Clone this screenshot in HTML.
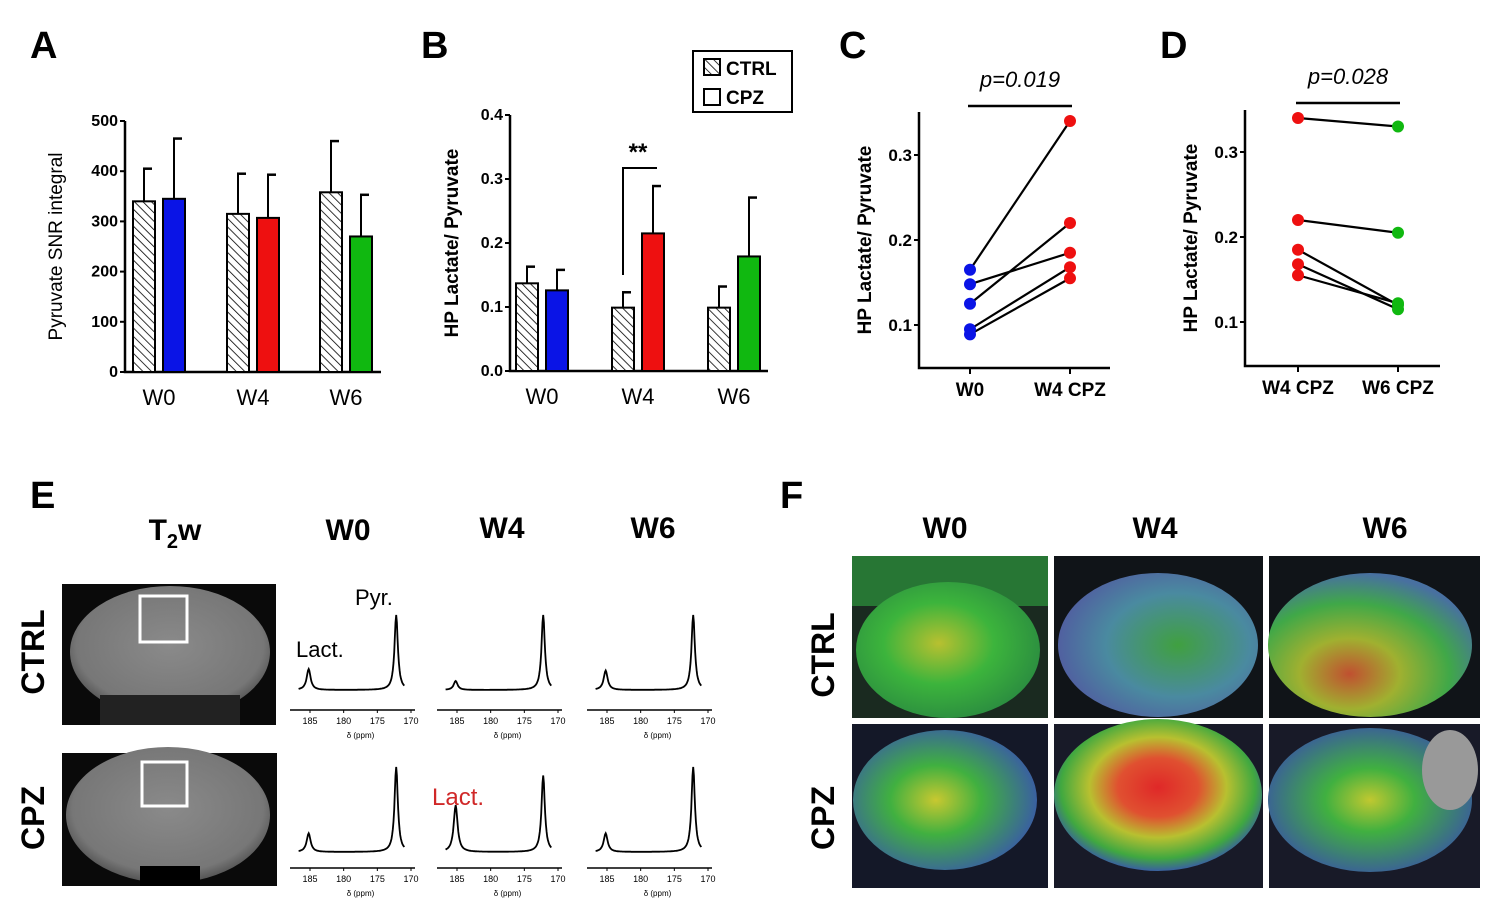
<!DOCTYPE html>
<html><head><meta charset="utf-8"><style>
html,body{margin:0;padding:0;background:#fff;}
svg{display:block;font-family:"Liberation Sans",sans-serif;}
.lbl{font-weight:bold;font-size:38px;font-family:"Liberation Sans Narrow","Liberation Sans",sans-serif;}
.tk{font-weight:bold;font-size:16px;}
.cat{font-size:22px;}
.ax{stroke:#000;stroke-width:2.5;fill:none;}
</style></head><body>
<svg id="fig" width="1488" height="919" viewBox="0 0 1488 919">
<defs>
<pattern id="hatch" patternUnits="userSpaceOnUse" width="6" height="6" patternTransform="rotate(-45)">
<rect width="6" height="6" fill="#fff"/><line x1="0" y1="0" x2="0" y2="6" stroke="#000" stroke-width="1.6"/>
</pattern>
<radialGradient id="gW0c" cx="0.45" cy="0.45" r="0.6"><stop offset="0" stop-color="#b8c030"/><stop offset="0.5" stop-color="#3cb43c"/><stop offset="1" stop-color="#2a8a40"/></radialGradient>
<radialGradient id="gW4c" cx="0.6" cy="0.5" r="0.6"><stop offset="0" stop-color="#40a040"/><stop offset="0.6" stop-color="#4a8aa0"/><stop offset="1" stop-color="#5060a0"/></radialGradient>
<radialGradient id="gW6c" cx="0.4" cy="0.7" r="0.7"><stop offset="0" stop-color="#c05030"/><stop offset="0.35" stop-color="#a0b030"/><stop offset="0.7" stop-color="#40a848"/><stop offset="1" stop-color="#4870a0"/></radialGradient>
<radialGradient id="gW0p" cx="0.45" cy="0.5" r="0.55"><stop offset="0" stop-color="#c8c830"/><stop offset="0.45" stop-color="#40b040"/><stop offset="1" stop-color="#3a60a0"/></radialGradient>
<radialGradient id="gW4p" cx="0.5" cy="0.45" r="0.55"><stop offset="0" stop-color="#e02828"/><stop offset="0.35" stop-color="#e05030"/><stop offset="0.6" stop-color="#b8c030"/><stop offset="0.85" stop-color="#40a840"/><stop offset="1" stop-color="#3a60a0"/></radialGradient>
<radialGradient id="gW6p" cx="0.5" cy="0.5" r="0.55"><stop offset="0" stop-color="#c0c830"/><stop offset="0.4" stop-color="#40b040"/><stop offset="1" stop-color="#3a58a0"/></radialGradient>
<radialGradient id="brainG" cx="0.5" cy="0.45" r="0.55"><stop offset="0" stop-color="#8a8a8a"/><stop offset="0.85" stop-color="#777"/><stop offset="1" stop-color="#555"/></radialGradient>
</defs>

<text class="lbl" x="30" y="58">A</text>
<text class="lbl" x="421" y="58">B</text>
<text class="lbl" x="839" y="58">C</text>
<text class="lbl" x="1160" y="58">D</text>
<text class="lbl" x="30" y="508">E</text>
<text class="lbl" x="780" y="508">F</text>

<g id="panelA"></g>
<g id="panelB"></g>
<g id="panelC"></g>
<g id="panelD"></g>

<g>
<rect x="693" y="51" width="99" height="61" fill="#fff" stroke="#000" stroke-width="2"/>
<rect x="704" y="59" width="16" height="16" fill="url(#hatch)" stroke="#000" stroke-width="2"/>
<text x="726" y="75" font-weight="bold" font-size="19">CTRL</text>
<rect x="704" y="89" width="16" height="16" fill="#fff" stroke="#000" stroke-width="2"/>
<text x="726" y="104" font-weight="bold" font-size="19">CPZ</text>
</g>

<!-- Panel E -->
<g>
<text x="175" y="540" text-anchor="middle" font-weight="bold" font-size="30">T<tspan font-size="20" dy="8">2</tspan><tspan dy="-8">w</tspan></text>
<text x="348" y="540" text-anchor="middle" font-weight="bold" font-size="30">W0</text>
<text x="502" y="538" text-anchor="middle" font-weight="bold" font-size="30">W4</text>
<text x="653" y="538" text-anchor="middle" font-weight="bold" font-size="30">W6</text>
<text transform="translate(44,652) rotate(-90)" text-anchor="middle" font-weight="bold" font-size="32">CTRL</text>
<text transform="translate(44,818) rotate(-90)" text-anchor="middle" font-weight="bold" font-size="32">CPZ</text>
<g>
<rect x="62" y="584" width="214" height="141" fill="#0a0a0a"/>
<ellipse cx="170" cy="652" rx="100" ry="66" fill="url(#brainG)"/>
<rect x="100" y="695" width="140" height="30" fill="#222"/>
<rect x="140" y="596" width="47" height="46" fill="none" stroke="#fff" stroke-width="3"/>
</g>
<g>
<rect x="62" y="753" width="215" height="133" fill="#0a0a0a"/>
<ellipse cx="168" cy="815" rx="102" ry="68" fill="url(#brainG)"/>
<rect x="140" y="866" width="60" height="20" fill="#000"/>
<rect x="142" y="762" width="45" height="44" fill="none" stroke="#fff" stroke-width="3"/>
</g>
<text x="355" y="605" font-size="22">Pyr.</text>
<text x="296" y="657" font-size="22">Lact.</text>
<text x="432" y="805" font-size="24" fill="#d02828">Lact.</text>
<g id="spectra"></g>
</g>

<!-- Panel F -->
<g>
<text x="945" y="538" text-anchor="middle" font-weight="bold" font-size="30">W0</text>
<text x="1155" y="538" text-anchor="middle" font-weight="bold" font-size="30">W4</text>
<text x="1385" y="538" text-anchor="middle" font-weight="bold" font-size="30">W6</text>
<text transform="translate(834,655) rotate(-90)" text-anchor="middle" font-weight="bold" font-size="32">CTRL</text>
<text transform="translate(834,818) rotate(-90)" text-anchor="middle" font-weight="bold" font-size="32">CPZ</text>
<g><rect x="852" y="556" width="196" height="162" fill="#1a2a20"/><rect x="852" y="556" width="196" height="50" fill="#2a8a3a" opacity="0.8"/><ellipse cx="948" cy="650" rx="92" ry="68" fill="url(#gW0c)"/></g>
<g><rect x="1054" y="556" width="209" height="162" fill="#101418"/><ellipse cx="1158" cy="645" rx="100" ry="72" fill="url(#gW4c)"/></g>
<g><rect x="1269" y="556" width="211" height="162" fill="#101418"/><ellipse cx="1370" cy="645" rx="102" ry="72" fill="url(#gW6c)"/></g>
<g><rect x="852" y="724" width="196" height="164" fill="#141828"/><ellipse cx="945" cy="800" rx="92" ry="70" fill="url(#gW0p)"/></g>
<g><rect x="1054" y="724" width="209" height="164" fill="#181a28"/><ellipse cx="1158" cy="795" rx="104" ry="76" fill="url(#gW4p)"/></g>
<g><rect x="1269" y="724" width="211" height="164" fill="#181a28"/><ellipse cx="1370" cy="800" rx="102" ry="72" fill="url(#gW6p)"/><ellipse cx="1450" cy="770" rx="28" ry="40" fill="#999"/></g>
</g>
</svg>
<script>
// ---------- data ----------
var groups = ["W0","W4","W6"];
var snrCtrl = [340, 315, 358];
var snrCtrlErr = [405, 395, 460];
var snrCpz = [345, 307, 270];
var snrCpzErr = [465, 393, 353];
var snrTicks = [0,100,200,300,400,500];
var ratioCtrl = [0.137, 0.099, 0.099];
var ratioCtrlErr = [0.163, 0.123, 0.132];
var ratioCpz = [0.126, 0.215, 0.179];
var ratioCpzErr = [0.158, 0.289, 0.271];
var ratioTicks = ["0.0","0.1","0.2","0.3","0.4"];
var cpzColors = ["#0a14e6","#ee1010","#10b810"];
var cW0 = [0.165, 0.148, 0.125, 0.095, 0.089];
var cW4 = [0.340, 0.185, 0.220, 0.168, 0.155];
var dW4 = [0.340, 0.220, 0.185, 0.168, 0.155];
var dW6 = [0.330, 0.205, 0.120, 0.115, 0.122];
var pairTicks = ["0.1","0.2","0.3"];
var specLact = [[0.28,0.12,0.26],[0.22,0.55,0.22]];
var specPyr = [[1.0,1.0,1.0],[1.0,0.9,1.0]];
var specTicks = [185,180,175,170];

var NS="http://www.w3.org/2000/svg";
function el(parent, tag, attrs, txt){
  var e=document.createElementNS(NS,tag);
  for(var k in attrs) e.setAttribute(k, attrs[k]);
  if(txt!==undefined) e.textContent=txt;
  parent.appendChild(e); return e;
}

function barChart(g, x0, x1, yBase, yTop, vmax, ticks, tickFmt, ctrl, ctrlE, cpz, cpzE, groupX, label, labelX, name){
  function y(v){ return yBase - v/vmax*(yBase-yTop); }
  var a=el(g,'path',{d:'M'+x0+' '+yTop+' V'+yBase+' H'+x1,'class':'ax'});
  
  
  ticks.forEach(function(t){
    var v=parseFloat(t);
    el(g,'line',{x1:x0-5,x2:x0,y1:y(v),y2:y(v),stroke:'#000','stroke-width':2});
    var tx=el(g,'text',{x:x0-7,y:y(v)+5,'text-anchor':'end','class':'tk'},tickFmt(t));
    
    
  });
  var yl=el(g,'text',{transform:'translate('+labelX+','+((yBase+yTop)/2)+') rotate(-90)','text-anchor':'middle','font-size':19,'font-weight':name=='panel-b'?'bold':'normal'},label);
  
  
  var bw=22;
  groups.forEach(function(gn,i){
    var cx=groupX[i];
    var specs=[[ctrl[i],ctrlE[i],cx-bw-4,'url(#hatch)'],[cpz[i],cpzE[i],cx+4,cpzColors[i]]];
    specs.forEach(function(s,j){
      el(g,'line',{x1:s[2]+bw/2,x2:s[2]+bw/2,y1:y(s[0]),y2:y(s[1]),stroke:'#000','stroke-width':2});
      el(g,'line',{x1:s[2]+bw/2-1,x2:s[2]+bw/2+8,y1:y(s[1]),y2:y(s[1]),stroke:'#000','stroke-width':2.5});
      var r=el(g,'rect',{x:s[2],y:y(s[0]),width:bw,height:yBase-y(s[0]),fill:s[3],stroke:'#000','stroke-width':2});
      
      
    });
    var ct=el(g,'text',{x:cx,y:yBase+33,'text-anchor':'middle','class':'cat'},gn);
    
    
  });
  return y;
}

barChart(document.getElementById('panelA'),125,381,372,121,500,snrTicks,function(t){return String(t);},
  snrCtrl,snrCtrlErr,snrCpz,snrCpzErr,[159,253,346],'Pyruvate SNR integral',62,'panel-a');
var yB=barChart(document.getElementById('panelB'),510,768,371,115,0.4,ratioTicks,function(t){return t;},
  ratioCtrl,ratioCtrlErr,ratioCpz,ratioCpzErr,[542,638,734],'HP Lactate/ Pyruvate',458,'panel-b');
(function(){
  var g=document.getElementById('panelB');
  var br=el(g,'path',{d:'M623 275 V168 H657',fill:'none',stroke:'#000','stroke-width':2});
  
  
  var st=el(g,'text',{x:638,y:160,'text-anchor':'middle','font-size':24,'font-weight':'bold'},'**');
  
  
})();

function pairChart(g, x0, x1, yTop, yBase, y01, catX, cats, a, b, colA, colB, pText, pY, name){
  function y(v){ return y01 - (v-0.1)*850; }
  var ax=el(g,'path',{d:'M'+x0+' '+yTop+' V'+yBase+' H'+x1,'class':'ax'});
  
  
  pairTicks.forEach(function(t){
    var v=parseFloat(t);
    el(g,'line',{x1:x0-5,x2:x0,y1:y(v),y2:y(v),stroke:'#000','stroke-width':2});
    var tx=el(g,'text',{x:x0-7,y:y(v)+6,'text-anchor':'end','font-size':17,'font-weight':'bold'},t);
    
    
  });
  var yl=el(g,'text',{transform:'translate('+(x0-48)+','+((yTop+yBase)/2)+') rotate(-90)','text-anchor':'middle','font-size':19,'font-weight':'bold'},'HP Lactate/ Pyruvate');
  
  
  cats.forEach(function(c,i){
    el(g,'line',{x1:catX[i],x2:catX[i],y1:yBase,y2:yBase+6,stroke:'#000','stroke-width':2});
    var ct=el(g,'text',{x:catX[i],y:yBase+28,'text-anchor':'middle','font-size':19,'font-weight':'bold'},c);
    
    
  });
  a.forEach(function(v,i){
    var l=el(g,'line',{x1:catX[0],y1:y(v),x2:catX[1],y2:y(b[i]),stroke:'#000','stroke-width':2.2});
    
    
  });
  a.forEach(function(v,i){
    var p=el(g,'circle',{cx:catX[0],cy:y(v),r:6,fill:colA});
    
    
    var q=el(g,'circle',{cx:catX[1],cy:y(b[i]),r:6,fill:colB});
    
    
  });
  el(g,'line',{x1:catX[0]-2,x2:catX[1]+2,y1:pY+19,y2:pY+19,stroke:'#000','stroke-width':2.5});
  var pt=el(g,'text',{x:(catX[0]+catX[1])/2,y:pY,'text-anchor':'middle','font-size':22,'font-style':'italic'},pText);
  
  
}
pairChart(document.getElementById('panelC'),919,1110,112,368,325,[970,1070],['W0','W4 CPZ'],cW0,cW4,'#0a14e6','#ee1010','p=0.019',87,'panel-c');
pairChart(document.getElementById('panelD'),1245,1440,110,366,322,[1298,1398],['W4 CPZ','W6 CPZ'],dW4,dW6,'#ee1010','#10b810','p=0.028',84,'panel-d');

// spectra
(function(){
  var g=document.getElementById('spectra');
  var colX=[293,440,590];
  var rows=[{axisY:710,base:690,h:75},{axisY:868,base:852,h:85}];
  rows.forEach(function(r,ri){
    colX.forEach(function(c,ci){
      function px(ppm){ return c+17+(185-ppm)/15*101; }
      var xa=c-3, xb=c+122;
      var d='';
      for(var ppm=186.7; ppm>=171.0; ppm-=0.1){
        var lac=specLact[ri][ci]/(1+Math.pow((ppm-185.2)/0.35,2));
        var pyr=specPyr[ri][ci]/(1+Math.pow((ppm-172.2)/0.3,2));
        var yy=r.base-(lac+pyr)*r.h;
        d+=(d?'L':'M')+px(ppm).toFixed(1)+' '+yy.toFixed(1);
      }
      var s=el(g,'path',{d:d,fill:'none',stroke:'#000','stroke-width':1.8});
      
      
      el(g,'line',{x1:xa,x2:xb,y1:r.axisY,y2:r.axisY,stroke:'#000','stroke-width':1.5});
      specTicks.forEach(function(t){
        el(g,'line',{x1:px(t),x2:px(t),y1:r.axisY,y2:r.axisY+3,stroke:'#000','stroke-width':1});
        var tx=el(g,'text',{x:px(t),y:r.axisY+14,'text-anchor':'middle','font-size':9},String(t));
        
        
      });
      var xl=el(g,'text',{x:px(177.5),y:r.axisY+28,'text-anchor':'middle','font-size':8},'δ (ppm)');
      
      
    });
  });
})();
</script>
</body></html>
